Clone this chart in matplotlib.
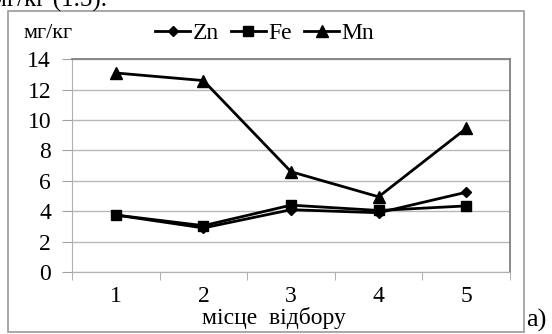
import matplotlib.pyplot as plt
from matplotlib.patches import Rectangle

plt.rcParams['font.family'] = ['Liberation Serif', 'DejaVu Serif']

# дані
places = [1, 2, 3, 4, 5]
zn = [3.75, 2.9, 4.1, 3.9, 5.25]
fe = [3.75, 3.05, 4.4, 4.05, 4.35]
mn = [13.1, 12.6, 6.6, 4.95, 9.45]
yticks = [0, 2, 4, 6, 8, 10, 12, 14]

fig = plt.figure(figsize=(5.52, 3.34), dpi=100)
W, H = 552, 334

# рамка навколо діаграми
fig.patches.append(Rectangle((8 / W, 2 / H), 516 / W, 321 / H, transform=fig.transFigure,
                             fill=False, edgecolor='#9a9a9a', linewidth=1.2))

ax = fig.add_axes([72 / W, (H - 272) / H, 438 / W, 212.7 / H])

ax.plot(places, zn, color='black', lw=2, marker='D', ms=5, label='Zn')
ax.plot(places, fe, color='black', lw=2, marker='s', ms=7, label='Fe')
ax.plot(places, mn, color='black', lw=2, marker='^', ms=8, label='Mn')

ax.set_xlim(0.5, 5.5)
ax.set_ylim(0, 14)
ax.set_yticks(yticks)
ax.set_xticks(places)
ax.set_xticks([0.5, 1.5, 2.5, 3.5, 4.5, 5.5], minor=True)
ax.tick_params(axis='x', which='major', length=0, pad=10, labelsize=17)
ax.tick_params(axis='x', which='minor', length=6, color='#a0a0a0')
ax.tick_params(axis='y', length=7, color='#a0a0a0', labelsize=17, pad=8)
ax.grid(axis='y', color='#b8b8b8', lw=1)
ax.set_axisbelow(True)
for s in ['left', 'bottom']:
    ax.spines[s].set_color('#b0b0b0')
for s in ['top', 'right']:
    ax.spines[s].set_color('#808080')
    ax.spines[s].set_linewidth(1.3)

ax.set_xlabel('місце  відбору', fontsize=17, va='center')
ax.xaxis.set_label_coords(0.46, -0.215)

ax.legend(loc='center left', bbox_to_anchor=(155 / W, 1 - 33 / H),
          bbox_transform=fig.transFigure, ncol=3, frameon=False,
          fontsize=17, handlelength=1.5, handletextpad=0.1, columnspacing=0.5,
          borderaxespad=0, borderpad=0)

fig.text(24 / W, 1 - 33 / H, 'мг/кг', fontsize=16, va='center', ha='left')
fig.text(-9 / W, 1 - 7 / H, 'мг/кг (1.5).', fontsize=18, va='baseline', ha='left')
fig.text(526 / W, 1 - 327 / H, 'а)', fontsize=19, va='baseline', ha='left')

fig.savefig('out.png', dpi=100)
